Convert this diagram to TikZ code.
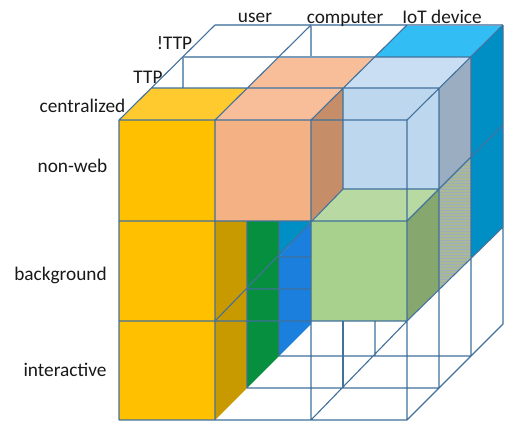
\documentclass[tikz,border=0pt]{standalone}
\usepackage{fontspec}
\setmainfont{Carlito}
\definecolor{ln}{HTML}{41719C}
\definecolor{lnl}{HTML}{7C9CBC}
\tikzset{
  gridline/.style={draw=ln,line width=1.1pt,line join=round},
  gridlight/.style={draw=lnl,line width=1.1pt},
  lbl/.style={inner sep=0pt,font=\fontsize{19.3}{22}\selectfont,text=black!90},
}
\begin{document}
\begin{tikzpicture}[x=1pt,y=-1pt]
\useasboundingbox (0,0) rectangle (532,437);
\fill[white] (0,0) rectangle (532,437);
% back column, top and right
\fill[fill={rgb,255:red,51;green,189;blue,245}] (375,57) -- (471,57) -- (503,25) -- (407,25) -- cycle;
\fill[fill={rgb,255:red,0;green,143;blue,196}] (471,57) -- (503,25) -- (503,227) -- (471,258) -- cycle;
% light blue top, faces
\fill[fill={rgb,255:red,201;green,222;blue,242}] (343,88) -- (439,88) -- (471,57) -- (375,57) -- cycle;
\fill[fill={rgb,255:red,189;green,215;blue,238}] (343,88) rectangle (439,189);
\fill[fill={rgb,255:red,155;green,173;blue,192}] (439,88) -- (471,57) -- (471,158) -- (439,189) -- cycle;
% hatched face
\begin{scope}
\clip (439,189) -- (471,158) -- (471,258) -- (439,289) -- cycle;
\fill[fill={rgb,255:red,155;green,173;blue,192}] (439,155) rectangle (471,290);
\foreach \yy in {157,160,...,290} {\fill[fill={rgb,255:red,170;green,185;blue,148}] (439,\yy) rectangle (471,\yy+1.5);}
\end{scope}
% green block
\fill[fill={rgb,255:red,185;green,217;blue,162}] (311,221) -- (407,221) -- (439,189) -- (343,189) -- cycle;
\fill[fill={rgb,255:red,169;green,209;blue,142}] (311,221) rectangle (407,321);
\fill[fill={rgb,255:red,134;green,168;blue,111}] (407,221) -- (439,189) -- (439,289) -- (407,321) -- cycle;
% pink column
\fill[fill={rgb,255:red,248;green,190;blue,154}] (215,120) -- (311,120) -- (375,57) -- (279,57) -- cycle;
\fill[fill={rgb,255:red,198;green,142;blue,104}] (311,120) -- (343,88) -- (343,189) -- (311,221) -- cycle;
\fill[fill={rgb,255:red,244;green,177;blue,131}] (215,120) rectangle (311,221);
% side of the yellow column
\fill[fill={rgb,255:red,201;green,154;blue,0}] (215,221) -- (247,221) -- (247,388) -- (215,420) -- cycle;
\fill[fill={rgb,255:red,6;green,143;blue,63}] (247,221) -- (279,221) -- (279,356) -- (247,388) -- cycle;
\fill[fill={rgb,255:red,0;green,143;blue,196}] (279,221) -- (311,221) -- (279,257) -- cycle;
\fill[fill={rgb,255:red,27;green,127;blue,221}] (311,221) -- (279,257) -- (279,356) -- (311,324) -- cycle;
% yellow column
\fill[fill={rgb,255:red,255;green,202;blue,46}] (119,120) -- (215,120) -- (247,88) -- (151,88) -- cycle;
\fill[fill={rgb,255:red,255;green,192;blue,0}] (119,120) rectangle (215,420);
% back, lighter lines
\draw[gridlight] (215,25) -- (503,25) (183,57) -- (183,88) (311,25) -- (311,57) (183,57) -- (375,57);
% grid lines
\draw[gridline]
  (119,120) -- (407,120) (151,88) -- (439,88) (375,57) -- (471,57)
  (119,221) -- (407,221) (119,321) -- (407,321) (119,420) -- (407,420)
  (119,120) -- (119,420) (215,120) -- (215,420) (311,120) -- (311,420) (407,120) -- (407,420)
  (119,120) -- (215,25) (215,120) -- (311,25) (311,120) -- (407,25) (407,120) -- (503,25)
  (407,221) -- (503,125) (407,321) -- (503,227) (407,420) -- (503,324)
  (215,321) -- (343,189)
  (311,420) -- (407,321)
  (439,88) -- (439,388) (471,57) -- (471,356) (503,25) -- (503,324)
  (343,88) -- (343,189) (343,189) -- (439,189)
  (247,221) -- (247,388) (279,221) -- (279,356)
  (247,289) -- (311,289) (279,257) -- (311,257)
  (247,388) -- (439,388) (279,356) -- (471,356)
  (375,321) -- (375,356);
\draw[gridline,line width=1.9pt] (343,321) -- (343,388);
% labels
\node[lbl] (luser) at (255,18) {user};
\node[lbl] (lcomp) at (345,19) {computer};
\node[lbl] (liot) at (442,17) {IoT device};
\node[lbl] (lnttp) at (174.5,43) {!TTP};
\node[lbl] (lttp) at (148,77) {TTP};
\node[lbl] (lcent) at (82.5,106) {centralized};
\node[lbl] (lnon) at (72.5,166) {non-web};
\node[lbl] (lback) at (60.5,275) {background};
\node[lbl] (lint) at (65,370) {interactive};
\end{tikzpicture}
\end{document}
